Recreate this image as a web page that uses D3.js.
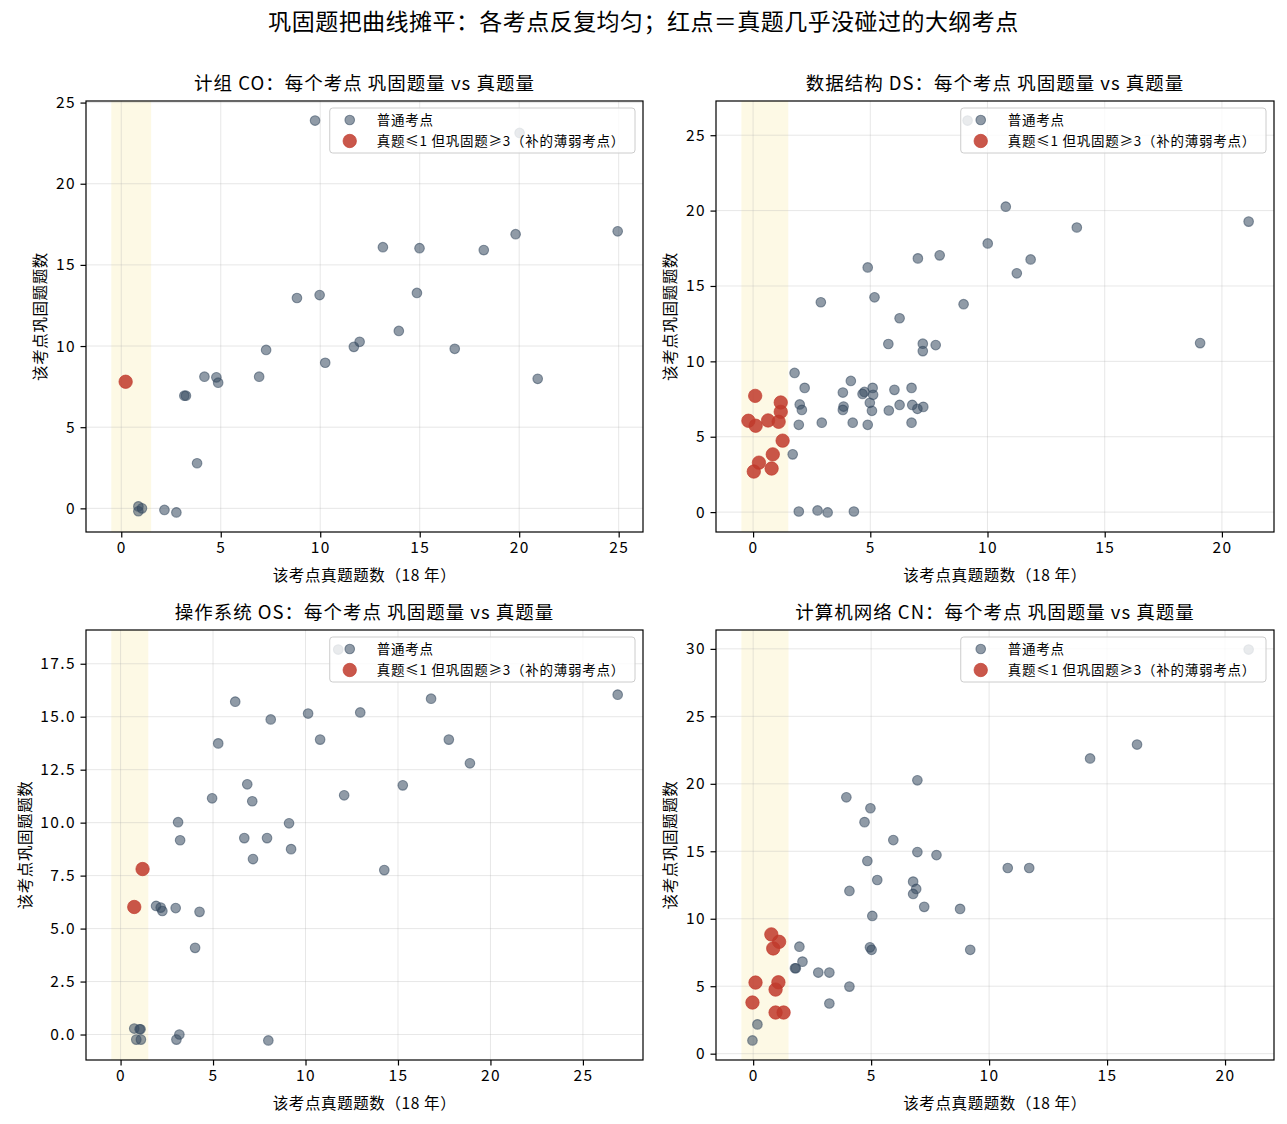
<!DOCTYPE html>
<html>
<head>
<meta charset="utf-8">
<script src="https://cdn.jsdelivr.net/npm/d3@7"></script>
<style>
  body { margin: 0; background: #fff; }
  text { font-family: "Noto Sans CJK SC", "Noto Sans", sans-serif; fill: #000; }
</style>
</head>
<body>
<div id="container"></div>
<script>

// 1 - DATA - [真题题数, 巩固题题数] per topic

// 计组 CO
const coNormal = [[9.74,23.89],[20.02,23.13],[24.95,17.07],[19.82,16.89],[13.15,16.09],[14.99,16.03],
  [18.22,15.91],[8.83,12.96],[9.97,13.14],[14.86,13.27],[13.95,10.93],[11.69,9.95],[11.98,10.26],
  [16.76,9.83],[7.28,9.76],[10.25,8.97],[6.93,8.11],[4.18,8.11],[4.78,8.07],[4.87,7.74],[20.93,7.98],
  [3.17,6.94],[3.25,6.94],[3.81,2.78],[0.86,0.12],[0.86,-0.18],[1.04,0],[2.17,-0.10],[2.77,-0.25]];
const coWeak = [[0.22,7.80]];

// 数据结构 DS
const dsNormal = [[9.15,25.97],[10.78,20.26],[21.14,19.27],[13.81,18.88],[10.01,17.82],[7.03,16.83],
  [7.96,17.03],[11.84,16.76],[11.25,15.84],[4.89,16.23],[2.89,13.92],[5.18,14.25],[8.98,13.79],
  [6.25,12.86],[5.77,11.15],[7.24,11.17],[7.24,10.68],[7.79,11.08],[19.07,11.21],[1.77,9.23],
  [2.20,8.24],[4.17,8.70],[3.83,7.93],[4.67,7.84],[4.75,7.97],[5.10,8.24],[5.12,7.78],[6.03,8.11],
  [6.76,8.24],[1.99,7.14],[2.08,6.78],[3.86,7.00],[3.83,6.78],[4.98,7.25],[5.07,6.72],[5.79,6.74],
  [6.25,7.11],[6.79,7.11],[7.01,6.85],[7.26,6.98],[1.95,5.79],[2.93,5.93],[4.25,5.93],[4.89,5.79],
  [6.76,5.93],[1.69,3.83],[1.95,0.04],[2.75,0.11],[3.18,-0.02],[4.30,0.04]];
const dsWeak = [[0.09,7.71],[1.18,7.27],[1.18,6.65],[-0.20,6.06],[0.11,5.73],[0.64,6.08],[1.09,5.99],
  [1.26,4.74],[0.84,3.83],[0.25,3.28],[0.79,2.89],[0.03,2.69]];

// 操作系统 OS
const osNormal = [[11.77,18.17],[26.88,16.04],[6.20,15.71],[16.79,15.85],[8.12,14.87],[10.14,15.15],
  [12.96,15.20],[5.28,13.74],[10.79,13.92],[17.75,13.92],[18.89,12.80],[6.85,11.81],[4.95,11.15],
  [7.12,11.01],[12.09,11.29],[15.26,11.76],[3.11,10.02],[3.22,9.17],[9.11,9.97],[6.69,9.27],
  [7.92,9.27],[9.22,8.75],[7.16,8.28],[14.26,7.76],[1.92,6.07],[2.17,5.99],[2.26,5.83],[2.98,5.97],
  [4.27,5.79],[4.03,4.09],[0.74,0.28],[1.03,0.25],[1.08,0.25],[0.85,-0.24],[1.10,-0.24],[3.18,0.0],
  [3.02,-0.24],[7.99,-0.28]];
const osWeak = [[1.19,7.81],[0.74,6.02]];

// 计算机网络 CN
const cnNormal = [[21.0,29.95],[16.27,22.91],[14.28,21.88],[6.96,20.26],[3.95,19.0],[4.97,18.19],
  [4.72,17.16],[5.94,15.83],[6.96,14.94],[7.77,14.72],[4.84,14.28],[10.79,13.76],[11.70,13.76],
  [5.26,12.87],[6.78,12.75],[6.91,12.21],[6.78,11.84],[4.08,12.06],[7.25,10.88],[8.77,10.73],
  [5.05,10.21],[4.95,7.88],[5.02,7.70],[9.20,7.70],[1.96,7.93],[2.09,6.82],[1.77,6.33],[1.81,6.33],
  [2.76,6.01],[3.23,6.01],[4.08,4.97],[3.23,3.72],[0.18,2.17],[-0.03,0.98]];
const cnWeak = [[0.77,8.84],[1.10,8.29],[0.85,7.80],[0.10,5.27],[1.07,5.29],[0.95,4.75],[-0.03,3.79],
  [0.95,3.05],[1.29,3.05]];

// tick labels
const ticks25 = [0, 5, 10, 15, 20, 25];
const ticks20 = [0, 5, 10, 15, 20];
const ticks30 = [0, 5, 10, 15, 20, 25, 30];
const ticksOsY = [0, 2.5, 5, 7.5, 10, 12.5, 15, 17.5];

// highlighted band: 真题 -0.5 .. 1.5
const bandRange = [-0.5, 1.5];

// texts
const suptitle = "巩固题把曲线摊平：各考点反复均匀；红点＝真题几乎没碰过的大纲考点";
const xLabel = "该考点真题题数（18 年）";
const yLabel = "该考点巩固题题数";
const legendLabels = ["普通考点", "真题≤1 但巩固题≥3（补的薄弱考点）"];


// 2 - LAYOUT - panel boxes in page pixels

const width = 1287;
const height = 1124;

const panels = [
  { title: "计组 CO：每个考点 巩固题量 vs 真题量", normal: coNormal, weak: coWeak,
    xTicks: ticks25, yTicks: ticks25, yFmt: d3.format("d"), box: { left: 86, right: 643, top: 101, bottom: 532 } },
  { title: "数据结构 DS：每个考点 巩固题量 vs 真题量", normal: dsNormal, weak: dsWeak,
    xTicks: ticks20, yTicks: ticks25, yFmt: d3.format("d"), box: { left: 716, right: 1274, top: 101, bottom: 532 } },
  { title: "操作系统 OS：每个考点 巩固题量 vs 真题量", normal: osNormal, weak: osWeak,
    xTicks: ticks25, yTicks: ticksOsY, yFmt: d3.format(".1f"), box: { left: 86, right: 643, top: 630, bottom: 1060 } },
  { title: "计算机网络 CN：每个考点 巩固题量 vs 真题量", normal: cnNormal, weak: cnWeak,
    xTicks: ticks20, yTicks: ticks30, yFmt: d3.format("d"), box: { left: 716, right: 1274, top: 630, bottom: 1060 } }
];

const grayColor = "#34495e";
const redColor = "#c0392b";
const tickFont = 15.5;

// pad an extent by 5% each side like matplotlib autoscale
function padded(extent) {
  const r = extent[1] - extent[0];
  return [extent[0] - r * 0.05, extent[1] + r * 0.05];
}


// 3 - ELEMENTS

const svg = d3.select("#container")
  .append("svg")
  .attr("width", width)
  .attr("height", height)
  .style("background", "#fff");

svg.append("text")
  .attr("x", width / 2)
  .attr("y", 30)
  .attr("text-anchor", "middle")
  .style("font-size", "23px")
  .style("letter-spacing", "0.45px")
  .text(suptitle);

panels.forEach(p => {
  const b = p.box;
  const all = p.normal.concat(p.weak);

  // 4 - SCALES
  const xScale = d3.scaleLinear()
    .domain(padded(d3.extent(all.map(d => d[0]).concat(bandRange))))
    .range([b.left, b.right]);

  const yScale = d3.scaleLinear()
    .domain(padded(d3.extent(all, d => d[1])))
    .range([b.bottom, b.top]);

  const g = svg.append("g");

  // yellow band
  g.append("rect")
    .attr("x", xScale(bandRange[0]))
    .attr("y", b.top)
    .attr("width", xScale(bandRange[1]) - xScale(bandRange[0]))
    .attr("height", b.bottom - b.top)
    .attr("fill", "#f1c40f")
    .attr("fill-opacity", 0.11);

  // grid
  g.selectAll("line.gx")
    .data(p.xTicks)
    .join("line")
    .attr("class", "gx")
    .attr("x1", d => xScale(d)).attr("x2", d => xScale(d))
    .attr("y1", b.top).attr("y2", b.bottom)
    .attr("stroke", "#b0b0b0").attr("stroke-opacity", 0.3).attr("stroke-width", 1);

  g.selectAll("line.gy")
    .data(p.yTicks)
    .join("line")
    .attr("class", "gy")
    .attr("y1", d => yScale(d)).attr("y2", d => yScale(d))
    .attr("x1", b.left).attr("x2", b.right)
    .attr("stroke", "#b0b0b0").attr("stroke-opacity", 0.3).attr("stroke-width", 1);

  // 5 - POINTS
  g.selectAll("circle.normal")
    .data(p.normal)
    .join("circle")
    .attr("class", "normal")
    .attr("cx", d => xScale(d[0]))
    .attr("cy", d => yScale(d[1]))
    .attr("r", 4.8)
    .attr("fill", grayColor).attr("fill-opacity", 0.55)
    .attr("stroke", grayColor).attr("stroke-opacity", 0.55).attr("stroke-width", 1.1);

  g.selectAll("circle.weak")
    .data(p.weak)
    .join("circle")
    .attr("class", "weak")
    .attr("cx", d => xScale(d[0]))
    .attr("cy", d => yScale(d[1]))
    .attr("r", 6.7)
    .attr("fill", redColor).attr("fill-opacity", 0.85)
    .attr("stroke", redColor).attr("stroke-opacity", 0.85).attr("stroke-width", 0.8);

  // 6 - AXES
  const xAxis = d3.axisBottom(xScale).tickValues(p.xTicks).tickSize(5.5).tickPadding(4).tickFormat(d3.format("d"));
  const yAxis = d3.axisLeft(yScale).tickValues(p.yTicks).tickSize(5.5).tickPadding(4.5).tickFormat(p.yFmt);

  const gx = svg.append("g")
    .attr("transform", `translate(0,${b.bottom})`)
    .call(xAxis);
  const gy = svg.append("g")
    .attr("transform", `translate(${b.left},0)`)
    .call(yAxis);

  [gx, gy].forEach(a => {
    a.select(".domain").remove();
    a.selectAll(".tick line").attr("stroke", "#000").attr("stroke-width", 1.2);
    a.selectAll(".tick text")
      .style("font-size", tickFont + "px")
      .style("letter-spacing", "1.4px")
      .attr("fill", "#000");
  });

  // frame
  svg.append("rect")
    .attr("x", b.left).attr("y", b.top)
    .attr("width", b.right - b.left).attr("height", b.bottom - b.top)
    .attr("fill", "none").attr("stroke", "#000").attr("stroke-width", 1.2);

  // titles and labels
  svg.append("text")
    .attr("x", (b.left + b.right) / 2)
    .attr("y", b.top - 11)
    .attr("text-anchor", "middle")
    .style("font-size", "18.5px")
    .style("letter-spacing", "1px")
    .text(p.title);

  svg.append("text")
    .attr("x", (b.left + b.right) / 2)
    .attr("y", b.bottom + 49)
    .attr("text-anchor", "middle")
    .style("font-size", "15.5px")
    .style("letter-spacing", "0.6px")
    .text(xLabel);

  const tickLeft = d3.min(gy.selectAll(".tick text").nodes(), n => n.getBoundingClientRect().left);
  const ymid = (b.top + b.bottom) / 2;
  const yl = tickLeft - 16.5;
  svg.append("text")
    .attr("transform", `translate(${yl},${ymid}) rotate(-90)`)
    .attr("text-anchor", "middle")
    .attr("dominant-baseline", "central")
    .style("font-size", "15.5px")
    .style("letter-spacing", "0.6px")
    .text(yLabel);

  // 7 - LEGEND (upper right, semi transparent)
  const lg = svg.append("g");
  const box = lg.append("rect")
    .attr("fill", "#fff").attr("fill-opacity", 0.8)
    .attr("stroke", "#cccccc").attr("stroke-width", 1)
    .attr("rx", 3).attr("ry", 3);

  const rows = lg.selectAll("g.row")
    .data(legendLabels)
    .join("g")
    .attr("class", "row")
    .attr("transform", (d, i) => `translate(0,${12 + i * 21})`);

  rows.append("circle")
    .attr("cx", 20)
    .attr("r", (d, i) => i === 0 ? 4.8 : 6.7)
    .attr("fill", (d, i) => i === 0 ? grayColor : redColor)
    .attr("fill-opacity", (d, i) => i === 0 ? 0.55 : 0.85)
    .attr("stroke", (d, i) => i === 0 ? grayColor : redColor)
    .attr("stroke-opacity", (d, i) => i === 0 ? 0.55 : 0.85)
    .attr("stroke-width", (d, i) => i === 0 ? 1.1 : 0.8);

  rows.append("text")
    .attr("x", 47)
    .attr("dy", "0.36em")
    .style("font-size", "13.5px")
    .style("letter-spacing", "0.75px")
    .text(d => d);

  const tw = d3.max(rows.selectAll("text").nodes(), n => n.getComputedTextLength());
  const lw = 47 + tw + 10;
  const lh = 45;
  box.attr("width", lw).attr("height", lh);
  lg.attr("transform", `translate(${b.right - 8 - lw},${b.top + 7})`);
});

</script>
</body>
</html>
